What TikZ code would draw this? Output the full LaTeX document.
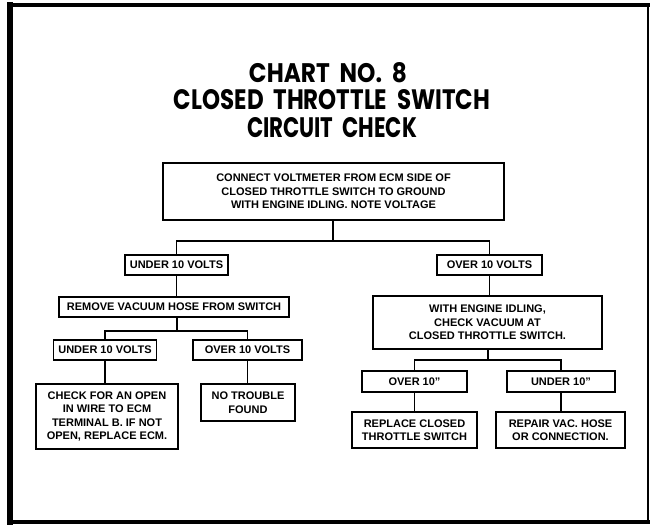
\documentclass[tikz,border=0pt]{standalone}
\usepackage{fontspec}
\setmainfont{Liberation Sans}
\newfontfamily\headfont{Poppins}
\usepackage{graphicx}

\newcommand{\wsp}{\hspace{0.42em}}

\begin{document}
\begin{tikzpicture}[x=1pt,y=-1pt,
  box/.style={draw, line width=1.6pt, inner sep=0pt, align=center,
    font=\fontsize{11}{13.5}\selectfont\bfseries},
  wire/.style={line width=1.6pt},
  ttl/.style={anchor=base, inner sep=0pt,
    font=\headfont\fontsize{26}{30}\selectfont\bfseries},
  frame/.style={line cap=rect}]
\useasboundingbox (0,0) rectangle (651,525);

% outer frame
\coordinate (fa) at (10,5);
\coordinate (fb) at (648,5);
\coordinate (fc) at (648,522);
\coordinate (fd) at (10,522);
\draw[frame, line width=3.5pt] (fa) -- (fb);
\draw[frame, line width=2.5pt] (fb) -- (fc);
\draw[frame, line width=4pt] (fc) -- (fd);
\draw[frame, line width=5.5pt] (fd) -- (fa);

% title, each line fitted to its width and cap height
\node[ttl] (t1) at (328,82) {\resizebox{158pt}{20pt}{CHART\wsp NO.\wsp 8}};
\node[ttl] (t2) at (332,109) {\resizebox{316pt}{20pt}{CLOSED\wsp THROTTLE\wsp SWITCH}};
\node[ttl] (t3) at (332,137) {\resizebox{170pt}{20pt}{CIRCUIT\wsp CHECK}};

% boxes
\node[box, minimum width=341pt, minimum height=57pt] (top) at (333.5,191.5)
  {CONNECT VOLTMETER FROM ECM SIDE OF\\CLOSED THROTTLE SWITCH TO GROUND\\WITH ENGINE IDLING. NOTE VOLTAGE};
\node[box, minimum width=103pt, minimum height=20pt] (u1) at (176.5,265) {UNDER 10 VOLTS};
\node[box, minimum width=105pt, minimum height=20pt] (o1) at (489.5,265) {OVER 10 VOLTS};

\node[box, minimum width=230pt, minimum height=20pt] (rem) at (174,307) {REMOVE VACUUM HOSE FROM SWITCH};
\node[box, minimum width=103pt, minimum height=20pt] (u2) at (105,350) {UNDER 10 VOLTS};
\node[box, minimum width=109pt, minimum height=20pt] (o2) at (247.5,350) {OVER 10 VOLTS};
\node[box, minimum width=142pt, minimum height=65pt] (chk) at (107,416.5)
  {CHECK FOR AN OPEN\\IN WIRE TO ECM\\TERMINAL B. IF NOT\\OPEN, REPLACE ECM.};
\node[box, minimum width=94pt, minimum height=37pt] (ntf) at (248,402.5) {NO TROUBLE\\FOUND};

\node[box, minimum width=229pt, minimum height=53pt] (with) at (487.5,322.5)
  {WITH ENGINE IDLING,\\CHECK VACUUM AT\\CLOSED THROTTLE SWITCH.};
\node[box, minimum width=105pt, minimum height=21pt] (o3) at (414.5,381.5) {OVER 10''};
\node[box, minimum width=108pt, minimum height=21pt] (u3) at (561,381.5) {UNDER 10''};
\node[box, minimum width=125pt, minimum height=36pt] (rep) at (414.5,430) {REPLACE CLOSED\\THROTTLE SWITCH};
\node[box, minimum width=129pt, minimum height=36pt] (rpr) at (560.5,430) {REPAIR VAC. HOSE\\OR CONNECTION.};

% connectors
\coordinate (j1) at (333,241);
\draw[wire] (top.south -| j1) -- (j1);
\draw[wire] (u1.north) |- (j1) -| (o1.north);

\draw[wire] (u1.south) -- (u1.south |- rem.north);
\coordinate (j2) at (177,331);
\draw[wire] (rem.south -| j2) -- (j2);
\draw[wire] (u2.north) |- (j2) -| (o2.north);
\draw[wire] (u2.south) -- (u2.south |- chk.north);
\draw[wire] (o2.south) -- (o2.south |- ntf.north);

\draw[wire] (o1.south) -- (o1.south |- with.north);
\coordinate (j3) at (488,360);
\draw[wire] (with.south -| j3) -- (j3);
\draw[wire] (o3.north) |- (j3) -| (u3.north);
\draw[wire] (o3.south) -- (o3.south |- rep.north);
\draw[wire] (u3.south) -- (u3.south |- rpr.north);
\end{tikzpicture}
\end{document}
